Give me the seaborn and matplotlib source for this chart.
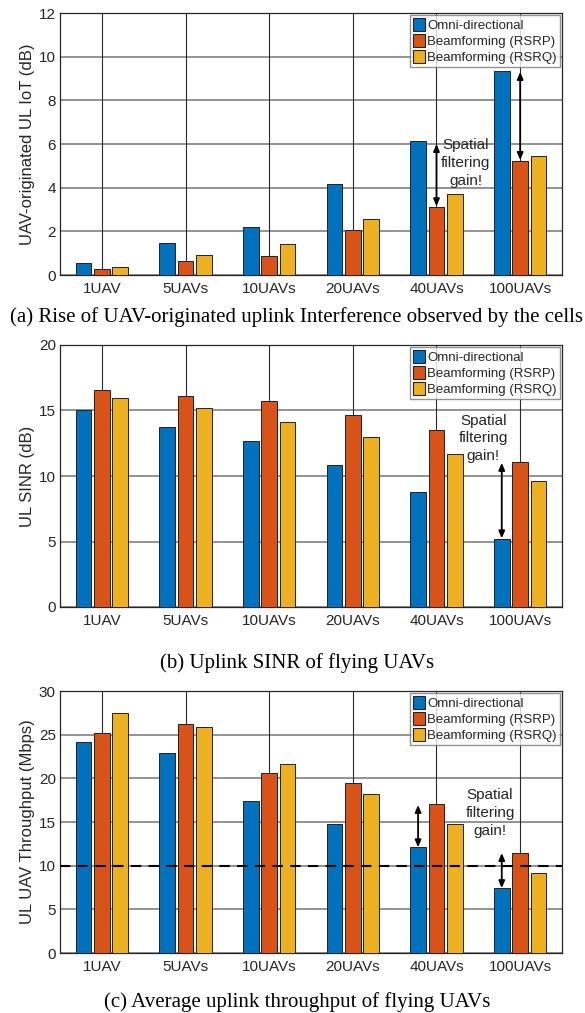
import matplotlib
matplotlib.use("Agg")
import matplotlib.pyplot as plt
import seaborn as sns
import pandas as pd

categories = ["1UAV", "5UAVs", "10UAVs", "20UAVs", "40UAVs", "100UAVs"]
series = ["Omni-directional", "Beamforming (RSRP)", "Beamforming (RSRQ)"]
colors = ["#0072BD", "#D95319", "#EDB120"]

iot_omni = [0.53, 1.45, 2.20, 4.19, 6.13, 9.36]
iot_rsrp = [0.27, 0.62, 0.88, 2.06, 3.12, 5.24]
iot_rsrq = [0.37, 0.91, 1.43, 2.55, 3.73, 5.47]

sinr_omni = [15.06, 13.77, 12.65, 10.87, 8.80, 5.22]
sinr_rsrp = [16.59, 16.10, 15.70, 14.63, 13.49, 11.10]
sinr_rsrq = [15.98, 15.17, 14.10, 13.00, 11.65, 9.60]

thr_omni = [24.20, 22.87, 17.35, 14.79, 12.09, 7.40]
thr_rsrp = [25.16, 26.19, 20.63, 19.48, 17.08, 11.40]
thr_rsrq = [27.53, 25.89, 21.69, 18.22, 14.79, 9.15]

threshold = 10

ylabels = ["UAV-originated UL IoT (dB)", "UL SINR (dB)", "UL UAV Throughput (Mbps)"]
ylims = [(0, 12), (0, 20), (0, 30)]
yticks = [[0, 2, 4, 6, 8, 10, 12], [0, 5, 10, 15, 20], [0, 5, 10, 15, 20, 25, 30]]
captions = ["(a) Rise of UAV-originated uplink Interference observed by the cells",
            "(b) Uplink SINR of flying UAVs",
            "(c) Average uplink throughput of flying UAVs"]

def make_df(a, b, c):
    rows = []
    for s, vals in zip(series, [a, b, c]):
        for cat, v in zip(categories, vals):
            rows.append({"cat": cat, "series": s, "val": v})
    return pd.DataFrame(rows)

dfs = [make_df(iot_omni, iot_rsrp, iot_rsrq),
       make_df(sinr_omni, sinr_rsrp, sinr_rsrq),
       make_df(thr_omni, thr_rsrp, thr_rsrq)]

sns.set_theme(style="white")
plt.rcParams["font.family"] = ["Liberation Sans", "DejaVu Sans"]

fig = plt.figure(figsize=(5.85, 10.13), dpi=100)
W = 585.0
H = 1013.0
boxes = [(13, 275), (345, 607), (691, 953)]
cap_y = [317, 663, 1002]
axes = []
for i, (t, b) in enumerate(boxes):
    ax = fig.add_axes([60 / W, 1 - b / H, (562 - 60) / W, (b - t) / H])
    axes.append(ax)
    sns.barplot(data=dfs[i], x="cat", y="val", hue="series", order=categories,
                hue_order=series, palette=colors, width=0.66, gap=0.14,
                edgecolor="#222222", linewidth=0.7, saturation=1, ax=ax, zorder=3)
    ax.set_xlim(-0.5, 5.5)
    ax.set_ylim(*ylims[i])
    ax.set_yticks(yticks[i])
    ax.set_xlabel("")
    ax.set_ylabel(ylabels[i], fontsize=12, color="#262626", labelpad=3)
    ax.tick_params(axis="y", labelsize=11, colors="#262626", length=0, pad=3)
    ax.tick_params(axis="x", labelsize=11, colors="#262626", length=0, pad=5)
    ax.set_axisbelow(True)
    for y in yticks[i]:
        ax.axhline(y, color="#8a8a8a", lw=1.3, zorder=0)
    for x in range(len(categories)):
        ax.axvline(x, color="#2a2a2a", lw=0.8, zorder=0)
    for sp in ax.spines.values():
        sp.set_color("#262626")
        sp.set_linewidth(0.9)
        sp.set_visible(True)
    leg = ax.legend(loc="upper right", fontsize=9.5, frameon=True, fancybox=False,
                    handlelength=0.9, handleheight=1.1, handletextpad=0.15,
                    borderpad=0.25, labelspacing=0.15, borderaxespad=0.15)
    leg.get_frame().set_edgecolor("#777777")
    leg.get_frame().set_linewidth(1.0)
    leg.set_zorder(6)
    for h in leg.legend_handles:
        h.set_edgecolor("#222222")
        h.set_linewidth(0.8)
    fig.text(297 / W, 1 - cap_y[i] / H, captions[i], ha="center", va="center",
             fontsize=15, family=["Liberation Serif", "DejaVu Serif"], color="black")

arrow_kw = dict(arrowstyle="<|-|>,head_length=0.35,head_width=0.15", color="black", lw=1.3,
                shrinkA=0, shrinkB=0)
txt = "Spatial\nfiltering\ngain!"

ax = axes[0]
ax.annotate("", xy=(4.0, 3.15), xytext=(4.0, 6.0), arrowprops=arrow_kw, zorder=5)
ax.annotate("", xy=(5.0, 5.27), xytext=(5.0, 9.3), arrowprops=arrow_kw, zorder=5)
ax.text(4.35, 5.14, txt, ha="center", va="center", fontsize=11, color="#262626",
        linespacing=1.35, zorder=5)

ax = axes[1]
ax.annotate("", xy=(4.78, 5.24), xytext=(4.78, 11.0), arrowprops=arrow_kw, zorder=5)
ax.text(4.56, 12.87, txt, ha="center", va="center", fontsize=11, color="#262626",
        linespacing=1.35, zorder=5)

ax = axes[2]
ax.axhline(threshold, color="black", lw=1.5, ls=(0, (5, 3.5)), zorder=4)
ax.annotate("", xy=(3.78, 12.1), xytext=(3.78, 16.95), arrowprops=arrow_kw, zorder=5)
ax.annotate("", xy=(4.78, 7.42), xytext=(4.78, 11.45), arrowprops=arrow_kw, zorder=5)
ax.text(4.64, 16.04, txt, ha="center", va="center", fontsize=11, color="#262626",
        linespacing=1.35, zorder=5)

fig.savefig("out.png", dpi=100)
